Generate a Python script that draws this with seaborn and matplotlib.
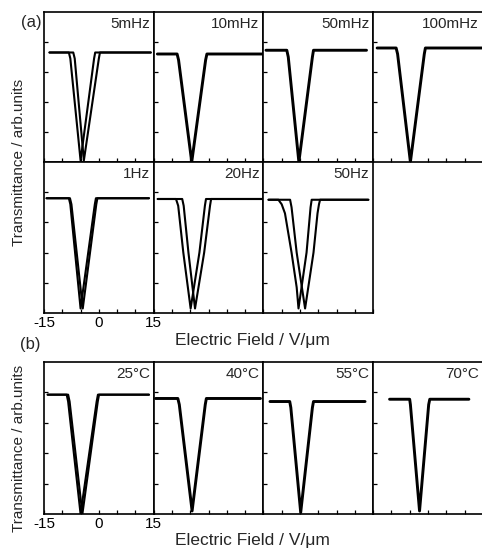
import matplotlib
matplotlib.use("Agg")
import matplotlib.pyplot as plt
import pandas as pd
import seaborn as sns

sns.set_style("ticks")
plt.rcParams['font.family'] = ['Liberation Sans', 'DejaVu Sans']

# ---------------- data ----------------
titles_a = ["5mHz", "10mHz", "50mHz", "100mHz", "1Hz", "20Hz", "50Hz"]
titles_b = ["25°C", "40°C", "55°C", "70°C"]

x_ticks = [-15, -10, -5, 0, 5, 10, 15]
x_ticklabels = ["-15", "", "", "0", "", "", "15"]
y_ticks = [0.2, 0.4, 0.6, 0.8]

# (a) 5 mHz : two branches
a5mhz_1_x = [-13.5, -8.2, -7.8, -5.0, -1.3, -1.0, 14.2]
a5mhz_1_y = [0.73, 0.73, 0.69, 0.01, 0.69, 0.73, 0.73]
a5mhz_2_x = [-13.5, -7.0, -6.6, -4.1, 0.0, 0.3, 14.2]
a5mhz_2_y = [0.73, 0.73, 0.69, 0.01, 0.69, 0.73, 0.73]
# (a) 10 mHz
a10mhz_x = [-14.0, -8.6, -8.2, -4.6, -0.8, -0.45, 14.6]
a10mhz_y = [0.72, 0.72, 0.68, 0.0, 0.68, 0.72, 0.72]
# (a) 50 mHz
a50mhz_x = [-14.3, -8.6, -8.2, -5.3, -1.6, -1.3, 13.2]
a50mhz_y = [0.745, 0.745, 0.70, 0.0, 0.70, 0.745, 0.745]
# (a) 100 mHz
a100mhz_x = [-13.9, -8.7, -8.3, -4.8, -1.0, -0.7, 15.0]
a100mhz_y = [0.76, 0.76, 0.72, 0.0, 0.72, 0.76, 0.76]
# (a) 1 Hz : two close branches
a1hz_1_x = [-14.3, -8.2, -7.8, -5.0, -1.1, -0.8, 13.7]
a1hz_1_y = [0.76, 0.76, 0.72, 0.03, 0.72, 0.76, 0.76]
a1hz_2_x = [-14.3, -7.9, -7.5, -4.4, -0.7, -0.4, 13.7]
a1hz_2_y = [0.76, 0.76, 0.72, 0.03, 0.72, 0.76, 0.76]
# (a) 20 Hz : hysteresis loop
a20hz_1_x = [-13.9, -8.9, -8.3, -6.9, -4.9, -2.5, -1.0, -0.7, 14.8]
a20hz_1_y = [0.755, 0.755, 0.71, 0.40, 0.03, 0.40, 0.71, 0.755, 0.755]
a20hz_2_x = [-13.9, -7.2, -6.8, -5.5, -3.7, -1.2, 0.4, 0.7, 14.8]
a20hz_2_y = [0.755, 0.755, 0.71, 0.40, 0.03, 0.40, 0.71, 0.755, 0.755]
# (a) 50 Hz : wide hysteresis loop
a50hz_1_x = [-13.6, -10.9, -10.0, -9.1, -7.3, -5.9, -5.4, -3.2, -2.1, -1.8, 13.7]
a50hz_1_y = [0.75, 0.75, 0.72, 0.66, 0.40, 0.17, 0.03, 0.40, 0.70, 0.75, 0.75]
a50hz_2_x = [-13.6, -7.7, -7.3, -5.9, -3.6, -1.3, -0.2, 0.2, 0.5, 13.7]
a50hz_2_y = [0.75, 0.75, 0.70, 0.40, 0.03, 0.40, 0.66, 0.72, 0.75, 0.75]

# (b) 25 C : two close branches
b25_1_x = [-14.0, -8.8, -8.4, -5.0, -0.6, -0.25, 13.7]
b25_1_y = [0.785, 0.785, 0.74, 0.0, 0.74, 0.785, 0.785]
b25_2_x = [-14.0, -8.4, -8.0, -4.5, -0.3, 0.05, 13.7]
b25_2_y = [0.785, 0.785, 0.74, 0.0, 0.74, 0.785, 0.785]
# (b) 40 C
b40_x = [-14.5, -8.4, -8.0, -4.5, -0.9, -0.6, 14.2]
b40_y = [0.76, 0.76, 0.72, 0.02, 0.72, 0.76, 0.76]
# (b) 55 C
b55_x = [-13.2, -7.8, -7.5, -4.8, -1.6, -1.3, 12.8]
b55_y = [0.74, 0.74, 0.70, 0.01, 0.70, 0.74, 0.74]
# (b) 70 C
b70_x = [-10.5, -5.0, -4.8, -2.3, 0.2, 0.5, 11.2]
b70_y = [0.755, 0.755, 0.72, 0.02, 0.72, 0.755, 0.755]

curves_a = [
    [(a5mhz_1_x, a5mhz_1_y), (a5mhz_2_x, a5mhz_2_y)],
    [(a10mhz_x, a10mhz_y)],
    [(a50mhz_x, a50mhz_y)],
    [(a100mhz_x, a100mhz_y)],
    [(a1hz_1_x, a1hz_1_y), (a1hz_2_x, a1hz_2_y)],
    [(a20hz_1_x, a20hz_1_y), (a20hz_2_x, a20hz_2_y)],
    [(a50hz_1_x, a50hz_1_y), (a50hz_2_x, a50hz_2_y)],
]
curves_b = [
    [(b25_1_x, b25_1_y), (b25_2_x, b25_2_y)],
    [(b40_x, b40_y)],
    [(b55_x, b55_y)],
    [(b70_x, b70_y)],
]


def to_frame(branches):
    rows = []
    for bi, (xs, ys) in enumerate(branches):
        for k, (xv, yv) in enumerate(zip(xs, ys)):
            rows.append({"branch": bi, "order": k, "field": xv, "T": yv})
    return pd.DataFrame(rows)


# ---------------- figure ----------------
W, H = 482, 551
fig = plt.figure(figsize=(W / 100, H / 100), dpi=100)

col_left = 44.0
col_w = 109.7


def add_panel(col, top_px, bot_px, title, branches, show_labels):
    l = (col_left + col * col_w) / W
    b = 1 - bot_px / H
    h = (bot_px - top_px) / H
    ax = fig.add_axes([l, b, col_w / W, h])
    df = to_frame(branches)
    lw = 1.5 if len(branches) > 1 else 2.1
    sns.lineplot(data=df, x="field", y="T", units="branch", estimator=None,
                 sort=False, color="black", linewidth=lw, ax=ax, legend=False)
    ax.set_xlim(-15, 15)
    ax.set_ylim(0, 1)
    ax.set_xticks(x_ticks)
    ax.set_yticks(y_ticks)
    if show_labels:
        ax.set_xticklabels(x_ticklabels)
    else:
        ax.set_xticklabels([])
    ax.set_yticklabels([])
    ax.set_xlabel("")
    ax.set_ylabel("")
    ax.tick_params(direction="in", length=3, width=0.9, top=False,
                   right=False, labelsize=11, pad=2, colors="black")
    for s in ax.spines.values():
        s.set_linewidth(1.2)
        s.set_color("black")
    ax.text(0.964, 0.968, title, transform=ax.transAxes, ha="right",
            va="top", fontsize=11)
    return ax


rows_a = [(12, 162), (162, 313)]
for i, (t, br) in enumerate(zip(titles_a, curves_a)):
    r, c = divmod(i, 4)
    add_panel(c, rows_a[r][0], rows_a[r][1], t, br,
              show_labels=(r == 1 and c == 0))

for c, (t, br) in enumerate(zip(titles_b, curves_b)):
    add_panel(c, 362, 514, t, br, show_labels=(c == 0))

# labels
fig.text(31 / W, 1 - 22 / H, "(a)", ha="center", va="center", fontsize=12)
fig.text(30 / W, 1 - 344 / H, "(b)", ha="center", va="center", fontsize=12)
fig.text(19 / W, 1 - 162 / H, "Transmittance / arb.units", rotation=90,
         ha="center", va="center", fontsize=11)
fig.text(19 / W, 1 - 448 / H, "Transmittance / arb.units", rotation=90,
         ha="center", va="center", fontsize=11)
fig.text(252 / W, 1 - 340 / H, "Electric Field / V/μm", ha="center",
         va="center", fontsize=12.5)
fig.text(252 / W, 1 - 540 / H, "Electric Field / V/μm", ha="center",
         va="center", fontsize=12.5)

fig.savefig("out.png", dpi=100)
